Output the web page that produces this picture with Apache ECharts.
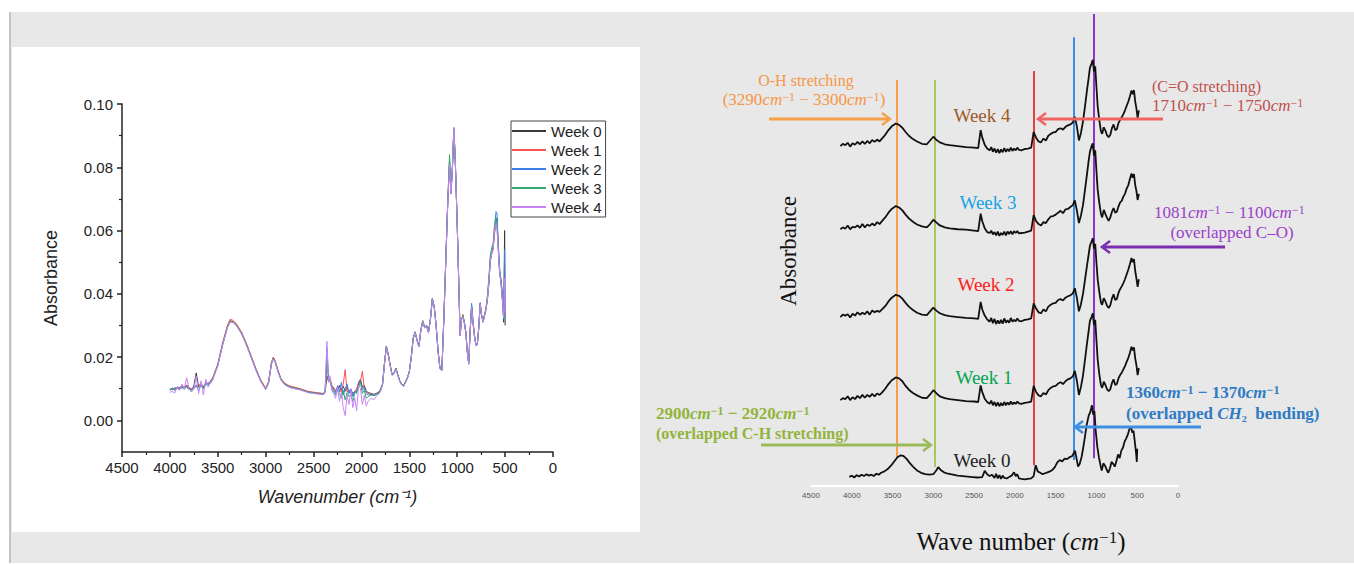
<!DOCTYPE html>
<html><head><meta charset="utf-8">
<script src="https://cdn.jsdelivr.net/npm/echarts@6/dist/echarts.min.js"></script>
<style>html,body{margin:0;padding:0;background:#fff}#c{width:1354px;height:564px}</style>
</head><body><div id="c"></div>
<script>
// ---------------- DATA ----------------
const weekNames = ['Week 0','Week 1','Week 2','Week 3','Week 4'];
const leftXTicks = [0,500,1000,1500,2000,2500,3000,3500,4000,4500];
const leftYMajor = [0,0.02,0.04,0.06,0.08,0.10];
const leftYMinor = [0.01,0.03,0.05,0.07,0.09];

// Left panel: FTIR spectra, wavenumber (cm-1) and absorbance per week
const leftWn = [4000,3975,3950,3925,3900,3875,3850,3825,3800,3775,
3750,3725,3700,3675,3650,3625,3600,3575,3550,3500,
3450,3400,3370,3340,3300,3250,3200,3150,3100,3050,
3000,2970,2940,2920,2900,2870,2840,2800,2750,2700,
2650,2600,2550,2500,2450,2400,2380,2360,2345,2330,
2310,2290,2270,2250,2230,2210,2190,2170,2150,2130,
2110,2090,2070,2050,2030,2010,1990,1970,1950,1930,
1900,1870,1840,1810,1780,1760,1740,1720,1700,1680,
1660,1640,1620,1600,1580,1560,1540,1520,1500,1480,
1460,1440,1420,1400,1380,1360,1340,1320,1300,1280,
1260,1240,1220,1200,1180,1160,1140,1120,1100,1080,
1065,1050,1035,1020,1000,985,970,955,940,925,
910,895,880,865,850,835,820,805,790,775,
760,745,730,715,700,685,670,655,640,625,
610,595,585,575,565,555,545,535,525,515,
505,500];
const leftW0 = [0.0095,0.0102,0.0098,0.0106,0.0100,0.0110,0.0104,0.0112,0.0103,0.0095,
0.0108,0.0150,0.0105,0.0118,0.0102,0.0120,0.0113,0.0125,0.0135,0.0175,
0.0240,0.0295,0.0315,0.0312,0.0300,0.0275,0.0240,0.0200,0.0160,0.0125,
0.0100,0.0120,0.0180,0.0198,0.0185,0.0155,0.0130,0.0115,0.0107,0.0103,
0.0100,0.0095,0.0090,0.0088,0.0086,0.0084,0.0090,0.0140,0.0125,0.0130,
0.0110,0.0102,0.0095,0.0098,0.0110,0.0095,0.0108,0.0092,0.0105,0.0088,
0.0096,0.0085,0.0090,0.0095,0.0120,0.0130,0.0105,0.0110,0.0092,0.0088,
0.0085,0.0082,0.0086,0.0092,0.0115,0.0180,0.0235,0.0210,0.0175,0.0145,
0.0150,0.0165,0.0145,0.0125,0.0115,0.0110,0.0122,0.0135,0.0155,0.0200,
0.0260,0.0280,0.0255,0.0235,0.0285,0.0315,0.0295,0.0300,0.0280,0.0320,
0.0385,0.0360,0.0300,0.0220,0.0165,0.0160,0.0320,0.0500,0.0680,0.0820,
0.0720,0.0800,0.0925,0.0820,0.0620,0.0450,0.0270,0.0320,0.0330,0.0310,
0.0280,0.0220,0.0180,0.0280,0.0360,0.0310,0.0270,0.0240,0.0240,0.0290,
0.0370,0.0330,0.0310,0.0330,0.0350,0.0380,0.0430,0.0510,0.0530,0.0540,
0.0600,0.0630,0.0640,0.0580,0.0520,0.0470,0.0450,0.0420,0.0380,0.0310,
0.0600,0.0300];
const leftW1 = [0.0098,0.0100,0.0101,0.0104,0.0103,0.0107,0.0101,0.0109,0.0106,0.0098,
0.0104,0.0112,0.0108,0.0115,0.0106,0.0117,0.0116,0.0122,0.0137,0.0178,
0.0245,0.0300,0.0320,0.0316,0.0303,0.0278,0.0243,0.0203,0.0162,0.0127,
0.0102,0.0122,0.0183,0.0200,0.0188,0.0158,0.0132,0.0117,0.0109,0.0105,
0.0101,0.0096,0.0091,0.0089,0.0087,0.0085,0.0092,0.0180,0.0140,0.0135,
0.0112,0.0100,0.0090,0.0102,0.0105,0.0088,0.0115,0.0160,0.0090,0.0095,
0.0090,0.0080,0.0088,0.0100,0.0115,0.0125,0.0155,0.0100,0.0090,0.0085,
0.0083,0.0080,0.0084,0.0090,0.0113,0.0178,0.0233,0.0208,0.0174,0.0144,
0.0149,0.0163,0.0144,0.0124,0.0114,0.0109,0.0121,0.0134,0.0154,0.0199,
0.0258,0.0279,0.0254,0.0234,0.0284,0.0313,0.0294,0.0299,0.0279,0.0318,
0.0383,0.0358,0.0298,0.0218,0.0163,0.0158,0.0318,0.0498,0.0678,0.0815,
0.0718,0.0798,0.0922,0.0818,0.0618,0.0448,0.0268,0.0318,0.0335,0.0305,
0.0275,0.0215,0.0182,0.0285,0.0362,0.0305,0.0265,0.0238,0.0245,0.0300,
0.0365,0.0335,0.0315,0.0335,0.0355,0.0390,0.0440,0.0500,0.0525,0.0545,
0.0590,0.0620,0.0630,0.0570,0.0500,0.0460,0.0440,0.0400,0.0370,0.0330,
0.0350,0.0360];
const leftW2 = [0.0100,0.0097,0.0103,0.0101,0.0105,0.0102,0.0108,0.0104,0.0098,0.0100,
0.0106,0.0110,0.0102,0.0112,0.0108,0.0115,0.0118,0.0120,0.0133,0.0173,
0.0238,0.0293,0.0312,0.0310,0.0298,0.0273,0.0238,0.0198,0.0158,0.0123,
0.0098,0.0118,0.0178,0.0195,0.0183,0.0153,0.0128,0.0113,0.0105,0.0101,
0.0098,0.0093,0.0088,0.0086,0.0084,0.0082,0.0088,0.0230,0.0150,0.0125,
0.0105,0.0095,0.0085,0.0110,0.0090,0.0120,0.0080,0.0100,0.0115,0.0085,
0.0100,0.0075,0.0092,0.0085,0.0110,0.0125,0.0095,0.0105,0.0085,0.0080,
0.0082,0.0079,0.0083,0.0090,0.0112,0.0177,0.0232,0.0207,0.0173,0.0143,
0.0148,0.0163,0.0143,0.0123,0.0113,0.0108,0.0120,0.0133,0.0153,0.0198,
0.0258,0.0278,0.0253,0.0233,0.0283,0.0313,0.0293,0.0298,0.0278,0.0318,
0.0383,0.0358,0.0298,0.0218,0.0163,0.0158,0.0318,0.0498,0.0678,0.0818,
0.0718,0.0798,0.0923,0.0818,0.0618,0.0448,0.0268,0.0318,0.0328,0.0308,
0.0278,0.0218,0.0178,0.0282,0.0370,0.0315,0.0268,0.0236,0.0238,0.0295,
0.0372,0.0328,0.0312,0.0332,0.0352,0.0385,0.0435,0.0505,0.0535,0.0548,
0.0610,0.0660,0.0655,0.0570,0.0510,0.0465,0.0445,0.0415,0.0375,0.0320,
0.0540,0.0330];
const leftW3 = [0.0096,0.0100,0.0094,0.0102,0.0098,0.0104,0.0099,0.0106,0.0100,0.0090,
0.0100,0.0108,0.0095,0.0110,0.0100,0.0113,0.0112,0.0118,0.0132,0.0174,
0.0240,0.0294,0.0313,0.0311,0.0299,0.0274,0.0239,0.0199,0.0159,0.0124,
0.0099,0.0119,0.0179,0.0196,0.0184,0.0154,0.0129,0.0114,0.0106,0.0102,
0.0099,0.0094,0.0089,0.0087,0.0085,0.0083,0.0089,0.0190,0.0135,0.0128,
0.0100,0.0090,0.0080,0.0095,0.0085,0.0070,0.0095,0.0065,0.0088,0.0075,
0.0082,0.0060,0.0085,0.0090,0.0105,0.0120,0.0085,0.0095,0.0070,0.0075,
0.0080,0.0078,0.0082,0.0089,0.0112,0.0178,0.0233,0.0208,0.0174,0.0144,
0.0149,0.0164,0.0144,0.0124,0.0114,0.0109,0.0121,0.0134,0.0154,0.0199,
0.0259,0.0279,0.0254,0.0234,0.0284,0.0314,0.0294,0.0299,0.0279,0.0319,
0.0384,0.0359,0.0299,0.0219,0.0164,0.0159,0.0319,0.0499,0.0685,0.0840,
0.0715,0.0800,0.0924,0.0819,0.0619,0.0449,0.0269,0.0319,0.0332,0.0309,
0.0279,0.0219,0.0180,0.0281,0.0361,0.0312,0.0268,0.0240,0.0242,0.0292,
0.0368,0.0332,0.0313,0.0333,0.0352,0.0395,0.0450,0.0520,0.0545,0.0560,
0.0620,0.0640,0.0620,0.0560,0.0505,0.0462,0.0442,0.0410,0.0365,0.0330,
0.0330,0.0320];
const leftW4 = [0.0088,0.0092,0.0086,0.0105,0.0095,0.0115,0.0098,0.0135,0.0100,0.0092,
0.0098,0.0140,0.0085,0.0125,0.0080,0.0130,0.0105,0.0120,0.0130,0.0172,
0.0237,0.0292,0.0311,0.0309,0.0297,0.0272,0.0237,0.0197,0.0157,0.0122,
0.0097,0.0117,0.0177,0.0194,0.0182,0.0152,0.0127,0.0112,0.0104,0.0100,
0.0097,0.0092,0.0087,0.0085,0.0083,0.0081,0.0087,0.0250,0.0120,0.0140,
0.0095,0.0085,0.0070,0.0105,0.0060,0.0090,0.0040,0.0015,0.0080,0.0050,
0.0095,0.0040,0.0070,0.0030,0.0110,0.0100,0.0050,0.0080,0.0045,0.0060,
0.0070,0.0065,0.0078,0.0085,0.0110,0.0176,0.0232,0.0207,0.0172,0.0142,
0.0147,0.0162,0.0142,0.0122,0.0112,0.0107,0.0119,0.0132,0.0152,0.0197,
0.0257,0.0277,0.0252,0.0232,0.0282,0.0312,0.0292,0.0297,0.0277,0.0317,
0.0382,0.0357,0.0297,0.0217,0.0162,0.0157,0.0317,0.0497,0.0677,0.0810,
0.0716,0.0797,0.0926,0.0817,0.0617,0.0447,0.0267,0.0317,0.0327,0.0307,
0.0277,0.0217,0.0177,0.0279,0.0358,0.0308,0.0266,0.0237,0.0240,0.0293,
0.0367,0.0331,0.0311,0.0331,0.0351,0.0383,0.0433,0.0503,0.0528,0.0542,
0.0600,0.0625,0.0600,0.0560,0.0505,0.0462,0.0440,0.0405,0.0372,0.0325,
0.0450,0.0340];

// Right panel: stacked spectra (arbitrary units), each week relative to its own baseline
const rightXTicks = [0,500,1000,1500,2000,2500,3000,3500,4000,4500];
const rightWnTop = [4140,4110,4080,4050,4020,3990,3960,3930,3900,3870,
3840,3810,3780,3750,3720,3690,3660,3630,3590,3550,
3510,3460,3420,3380,3340,3300,3250,3200,3140,3080,
3040,3000,2960,2920,2860,2800,2700,2600,2500,2450,
2420,2400,2370,2340,2310,2290,2270,2250,2230,2210,
2190,2170,2150,2130,2110,2090,2070,2050,2030,2010,
1990,1970,1950,1920,1880,1840,1800,1770,1740,1710,
1680,1650,1620,1590,1560,1530,1500,1470,1440,1410,
1380,1350,1320,1290,1265,1240,1215,1190,1165,1140,
1115,1095,1080,1060,1045,1030,1015,1000,985,965,
945,930,910,890,870,850,830,810,790,770,
750,730,710,690,670,650,630,610,590,570,
555,540,525,510,495,480];
const rightWn0 = [4030,4000,3970,3940,3910,3880,3850,3820,3790,3760,
3730,3700,3670,3640,3600,3560,3520,3480,3440,3400,
3370,3330,3290,3250,3200,3150,3100,3050,3000,2960,
2940,2910,2870,2820,2760,2700,2640,2580,2520,2460,
2400,2370,2340,2310,2280,2250,2230,2210,2190,2170,
2150,2130,2100,2070,2040,2010,1990,1970,1950,1920,
1880,1840,1800,1770,1745,1720,1690,1660,1630,1600,
1570,1540,1510,1480,1450,1420,1390,1360,1330,1300,
1280,1263,1245,1225,1205,1180,1150,1120,1095,1075,
1055,1040,1025,1010,990,970,950,935,915,895,
875,855,835,815,795,775,755,735,715,695,
675,655,635,615,595,578,560,545,530,515,
505,500];
const rightW0 = [0.0,0.3,-0.1,0.4,0.1,0.5,0.2,0.6,0.3,0.5,
0.2,0.7,0.5,0.9,1.2,1.7,2.4,3.3,4.2,4.6,
4.5,3.9,3.0,2.2,1.4,0.9,0.6,0.5,0.6,1.5,
2.1,1.5,1.0,0.7,0.5,0.3,0.2,0.1,0.0,-0.1,
0.0,1.3,0.6,0.2,0.5,-0.2,0.7,-0.3,0.4,-0.4,
0.3,-0.2,-0.3,0.0,0.3,1.0,0.2,0.6,-0.3,-0.4,
-0.5,-0.4,-0.3,0.2,2.5,1.2,0.9,0.6,0.8,1.0,
1.2,1.5,2.1,3.1,3.6,3.3,3.9,3.8,4.2,4.4,
5.0,5.6,4.0,2.2,2.8,4.4,7.5,11.0,13.0,13.8,
15.2,13.2,14.0,10.0,6.5,4.2,2.5,1.4,2.9,2.4,
1.6,0.9,1.8,3.2,2.8,2.2,3.4,4.8,4.0,5.6,
6.2,7.5,8.2,9.0,10.2,10.7,9.4,9.8,7.5,5.2,
3.2,6.0];
const rightW1 = [0.0,0.4,0.2,0.8,0.0,0.6,0.2,0.9,0.4,1.1,
0.5,1.1,0.7,1.3,0.8,1.4,1.1,1.6,2.4,3.4,
4.2,4.8,4.6,4.0,3.0,2.2,1.5,1.0,0.5,0.4,
1.2,2.1,1.4,0.8,0.4,0.2,0.0,-0.2,-0.3,-0.4,
3.1,1.7,0.3,-0.4,-0.8,-0.1,-1.1,-0.4,-1.3,-0.5,
-1.3,-0.6,-1.2,-0.4,-1.1,-0.5,-1.0,-0.3,-0.9,-0.5,
-0.8,-0.3,-0.7,-0.8,-0.6,-0.5,-0.3,3.0,1.7,1.0,
0.8,1.5,1.2,2.1,2.6,2.9,3.0,3.5,3.8,3.4,
4.0,4.4,4.6,5.0,6.2,4.1,1.1,2.8,5.2,8.6,
12.1,14.7,16.8,17.6,18.4,15.9,17.0,12.6,8.6,5.5,
3.2,2.6,3.9,3.2,2.3,1.9,2.3,3.6,4.4,3.2,
3.4,4.6,5.3,5.8,6.5,7.2,8.1,8.9,10.0,11.3,
10.5,11.2,8.9,7.4,5.3,6.8];
const rightW2 = [0.0,0.5,0.3,0.6,-0.1,0.7,0.3,1.0,0.5,0.9,
0.6,1.2,0.5,1.4,1.0,1.3,1.1,1.6,2.3,3.3,
4.1,4.7,4.5,3.9,3.0,2.2,1.5,0.9,0.5,0.4,
1.2,2.0,1.3,0.8,0.4,0.2,0.0,-0.2,-0.3,-0.4,
3.2,1.6,0.3,-0.5,-1.0,-0.2,-1.3,-0.4,-1.5,-0.7,
-1.4,-0.6,-1.4,-0.3,-1.2,-0.7,-1.2,-0.2,-1.0,-0.6,
-0.9,-0.3,-0.8,-0.9,-0.6,-0.5,-0.3,2.9,1.8,1.0,
0.8,1.6,1.2,2.2,2.6,2.9,3.0,3.6,3.8,3.5,
4.1,4.4,4.6,5.0,6.1,4.1,1.2,2.7,4.9,7.9,
11.0,13.3,15.1,16.0,16.7,14.5,15.5,11.5,8.0,5.3,
3.1,2.6,4.0,3.3,2.4,1.9,2.5,3.9,4.8,3.6,
3.8,5.1,5.9,6.5,7.2,8.0,9.0,10.0,11.2,12.5,
11.6,12.3,9.8,8.2,6.4,8.0];
const rightW3 = [0.0,0.4,0.1,0.8,0.0,0.5,0.4,0.8,0.3,1.1,
0.4,1.0,0.7,1.2,0.8,1.5,1.1,1.7,2.5,3.5,
4.3,4.9,4.6,4.0,3.1,2.3,1.6,1.0,0.6,0.4,
1.1,2.0,1.4,0.8,0.4,0.2,0.0,-0.1,-0.3,-0.4,
3.3,1.7,0.2,-0.6,-0.8,-0.3,-1.1,-0.6,-1.3,-0.5,
-1.4,-0.8,-1.2,-0.5,-1.3,-0.5,-1.0,-0.4,-1.1,-0.4,
-0.8,-0.4,-0.9,-0.8,-0.7,-0.5,-0.3,3.0,1.7,1.1,
0.8,1.5,1.3,2.1,2.7,2.8,3.1,3.5,3.9,3.4,
4.2,4.3,4.7,5.1,6.1,4.0,1.3,2.9,5.1,8.4,
11.8,14.6,16.4,17.6,18.2,15.6,16.7,12.3,8.4,5.6,
3.3,2.5,4.1,3.2,2.4,1.8,2.5,3.7,4.5,3.5,
3.7,4.8,5.7,6.0,6.9,7.5,8.6,9.3,10.6,11.8,
10.9,11.7,9.4,8.1,6.2,7.5];
const rightW4 = [0.0,0.5,0.2,0.7,-0.1,0.6,0.3,0.9,0.4,1.0,
0.5,1.1,0.6,1.3,0.9,1.4,1.0,1.6,2.4,3.4,
4.2,4.8,4.5,3.9,3.0,2.2,1.5,1.0,0.5,0.4,
1.2,2.0,1.3,0.8,0.4,0.2,0.0,-0.2,-0.3,-0.4,
3.4,1.8,0.3,-0.5,-0.9,-0.2,-1.2,-0.5,-1.4,-0.6,
-1.5,-0.7,-1.3,-0.4,-1.2,-0.6,-1.1,-0.3,-1.0,-0.5,
-0.9,-0.3,-0.8,-0.9,-0.6,-0.5,-0.3,3.0,1.8,1.0,
0.8,1.6,1.2,2.2,2.6,2.9,3.0,3.6,3.8,3.5,
4.1,4.4,4.6,5.0,6.2,4.2,1.2,2.8,5.2,8.5,
12.0,14.5,16.6,17.5,18.3,15.8,16.9,12.5,8.5,5.5,
3.2,2.6,4.0,3.3,2.3,1.9,2.4,3.8,4.6,3.4,
3.6,4.9,5.6,6.1,6.8,7.6,8.5,9.4,10.5,11.8,
11.0,11.9,9.5,8.0,6.0,7.6];
const rightOffsets = [1.9, 18.2, 35.8, 54.4, 72.0];
// marked band positions (cm-1) on right panel: O-H, C-H, C=O, CH2, C-O
const bandWn = [3445, 2979, 1766, 1275, 1030];

// ---------------- CHART ----------------
const sans = 'Liberation Sans, Arial, sans-serif';
const serif = 'Liberation Serif, Times New Roman, serif';
const leftColors = ['#3a3a3a','#ff5050','#3f7fe6','#2eaa6c','#c884f5'];
const leftData = [leftW0,leftW1,leftW2,leftW3,leftW4];
const rightData = [rightW0,rightW1,rightW2,rightW3,rightW4];

const series = [];
leftData.forEach((arr,i)=>{
  series.push({name:weekNames[i], type:'line', xAxisIndex:0, yAxisIndex:0, symbol:'none', showSymbol:false,
    data: leftWn.map((w,j)=>[w,arr[j]]), lineStyle:{width:1, color:leftColors[i]}, itemStyle:{color:leftColors[i]}, z:2+i});
});
const bandColors = ['#f7a04a','#a9c85a','#e0443c','#3a8ee6','#8e34c8'];
const bandTop = [86.0, 86.0, 87.9, 95.1, 100];
const bandBottom = [6.1, 4.0, 4.4, 5.5, 5.9];
rightData.forEach((arr,i)=>{
  const wn = i===0 ? rightWn0 : rightWnTop;
  const s = {name:weekNames[i]+' (stacked)', type:'line', xAxisIndex:1, yAxisIndex:2, symbol:'none', showSymbol:false,
    data: wn.map((w,j)=>[w, arr[j]+rightOffsets[i]]), lineStyle:{width:1.8, color:'#111'}, itemStyle:{color:'#111'}, z:10, clip:false};
  if(i===0){
    s.markLine = {silent:true, symbol:'none', label:{show:false}, animation:false,
      data: bandWn.map((w,k)=>[{coord:[w,bandTop[k]], lineStyle:{color:bandColors[k], width:2, type:'solid'}},{coord:[w,bandBottom[k]]}])};
  }
  series.push(s);
});

function T(x,y,text,color,size,o){
  o = o||{};
  const fw = o.bold?'bold':'normal';
  return {type:'text', x:x, y:y, z:60, silent:true, rotation:o.rot||0,
    style:{text:text, fill:color, fontSize:size, fontFamily:serif, fontWeight:fw,
      align:o.align||'center', verticalAlign:'middle',
      rich:{i:{fontStyle:'italic', fill:color, fontSize:size, fontFamily:serif, fontWeight:fw},
            s:{fill:color, fontSize:Math.round(size*0.68), fontFamily:serif, fontWeight:fw, verticalAlign:'top'},
            n:{fill:color, fontSize:size, fontFamily:serif, fontWeight:fw}}}};
}
function arrow(x1,y,x2,color){
  const d = x2>x1?1:-1;
  return {type:'group', children:[
    {type:'line', z:55, silent:true, shape:{x1:x1,y1:y,x2:x2-d*1.5,y2:y}, style:{stroke:color,lineWidth:3}},
    {type:'polyline', z:55, silent:true, shape:{points:[[x2-d*8,y-6],[x2,y],[x2-d*8,y+6]]}, style:{stroke:color,lineWidth:2.5,fill:null}}
  ]};
}

const graphics = [
  {type:'rect', z:-10, silent:true, shape:{x:10,y:12,width:1344,height:551}, style:{fill:'#e8e8e8'}},
  {type:'rect', z:-9, silent:true, shape:{x:9,y:12,width:2,height:551}, style:{fill:'#c4c4c4'}},
  {type:'rect', z:-9, silent:true, shape:{x:12,y:47,width:628,height:485}, style:{fill:'#ffffff'}},
  T(806,80,'O-H stretching','#f79646',16),
  T(804,99,'(3290{i|cm}{s|−1} − 3300{i|cm}{s|−1})','#f79646',17),
  arrow(769,119,890,'#f7a04a'),
  T(982,115,'Week 4','#9e5a28',19),
  T(1152,86,'(C=O stretching)','#c0504d',16,{align:'left'}),
  T(1152,105,'1710{i|cm}{s|−1} − 1750{i|cm}{s|−1}','#c0504d',17,{align:'left'}),
  arrow(1163,119,1038,'#ef6461'),
  T(988,202,'Week 3','#12a3e6',19),
  T(1154,212,'1081{i|cm}{s|−1} − 1100{i|cm}{s|−1}','#9b40c8',17,{align:'left'}),
  T(1232,232,'(overlapped C–O)','#9b40c8',17),
  arrow(1225,247,1102,'#7b2fb0'),
  T(986,284,'Week 2','#ff1a1a',19),
  T(984,377,'Week 1','#00a651',19),
  T(1126,392,'1360{i|cm}{s|−1} − 1370{i|cm}{s|−1}','#2f7bc4',17,{align:'left',bold:true}),
  T(1126,413,'(overlapped {i|CH}₂  bending)','#2f7bc4',17,{align:'left',bold:true}),
  arrow(1201,427,1075,'#3d8fe0'),
  T(656,413,'2900{i|cm}{s|−1} − 2920{i|cm}{s|−1}','#92b43c',17,{align:'left',bold:true}),
  T(656,433,'(overlapped C-H stretching)','#92b43c',16,{align:'left',bold:true}),
  arrow(761,445,931,'#9bbb59'),
  T(982,460,'Week 0','#222222',19),
  T(788,251,'Absorbance','#111111',23,{rot:Math.PI/2}),
  T(1021,541,'Wave number ({i|cm}{s|−1})','#111111',25)
];

const chart = echarts.init(document.getElementById('c'), null, {renderer:'svg', width:1354, height:564});
chart.setOption({
  backgroundColor:'#ffffff',
  animation:false,
  grid:[{left:122, top:104, width:431, height:348, containLabel:false},
        {left:811, top:14, width:367, height:472, containLabel:false}],
  legend:{data:weekNames, orient:'vertical', left:511, top:121, backgroundColor:'#fff',
    borderColor:'#444', borderWidth:1, padding:[2,4,2,1], itemGap:3, itemWidth:34, itemHeight:2, icon:'rect',
    textStyle:{fontSize:15, fontFamily:sans, color:'#222', lineHeight:16}, selectedMode:false},
  xAxis:[
    {gridIndex:0, type:'value', min:0, max:4500, interval:500, inverse:true,
     name:'Wavenumber (cm⁻¹)', nameLocation:'middle', nameGap:36,
     nameTextStyle:{fontSize:18, fontStyle:'italic', fontFamily:sans, color:'#222'},
     axisLine:{show:true, onZero:false, lineStyle:{color:'#222', width:1.5}},
     axisTick:{show:true, length:5, lineStyle:{color:'#222', width:1.5}},
     minorTick:{show:true, splitNumber:2, length:3, lineStyle:{color:'#222', width:1.2}},
     axisLabel:{fontSize:15, fontFamily:sans, color:'#222', margin:8, formatter:v=>String(v)},
     splitLine:{show:false}},
    {gridIndex:1, type:'value', min:0, max:4500, interval:500, inverse:true,
     axisLine:{show:true, onZero:false, lineStyle:{color:'#ffffff', width:2}},
     axisTick:{show:false},
     axisLabel:{fontSize:8, fontFamily:sans, color:'#555', margin:5, formatter:v=>String(v)},
     splitLine:{show:false}}
  ],
  yAxis:[
    {gridIndex:0, type:'value', min:-0.01, max:0.10, interval:0.01, position:'left',
     name:'Absorbance', nameLocation:'middle', nameGap:62,
     nameTextStyle:{fontSize:18, fontFamily:sans, color:'#222'},
     axisLine:{show:true, onZero:false, lineStyle:{color:'#222', width:1.5}},
     axisTick:{show:true, length:5, customValues:leftYMajor, lineStyle:{color:'#222', width:1.5}},
     axisLabel:{fontSize:15, fontFamily:sans, color:'#222', margin:9, customValues:leftYMajor,
       formatter:v=>(Math.abs(Math.round(v*100))%2===0 && v>-0.005)? v.toFixed(2):''},
     splitLine:{show:false}},
    {gridIndex:0, type:'value', min:-0.01, max:0.10, interval:0.01, position:'left', offset:0,
     axisLine:{show:false, onZero:false}, axisLabel:{show:false}, splitLine:{show:false},
     axisTick:{show:true, inside:false, length:3, customValues:leftYMinor, lineStyle:{color:'#222', width:1.2}}},
    {gridIndex:1, type:'value', min:0, max:100, show:false, splitLine:{show:false}}
  ],
  graphic:{elements:graphics},
  series:series
});
</script>
</body></html>
